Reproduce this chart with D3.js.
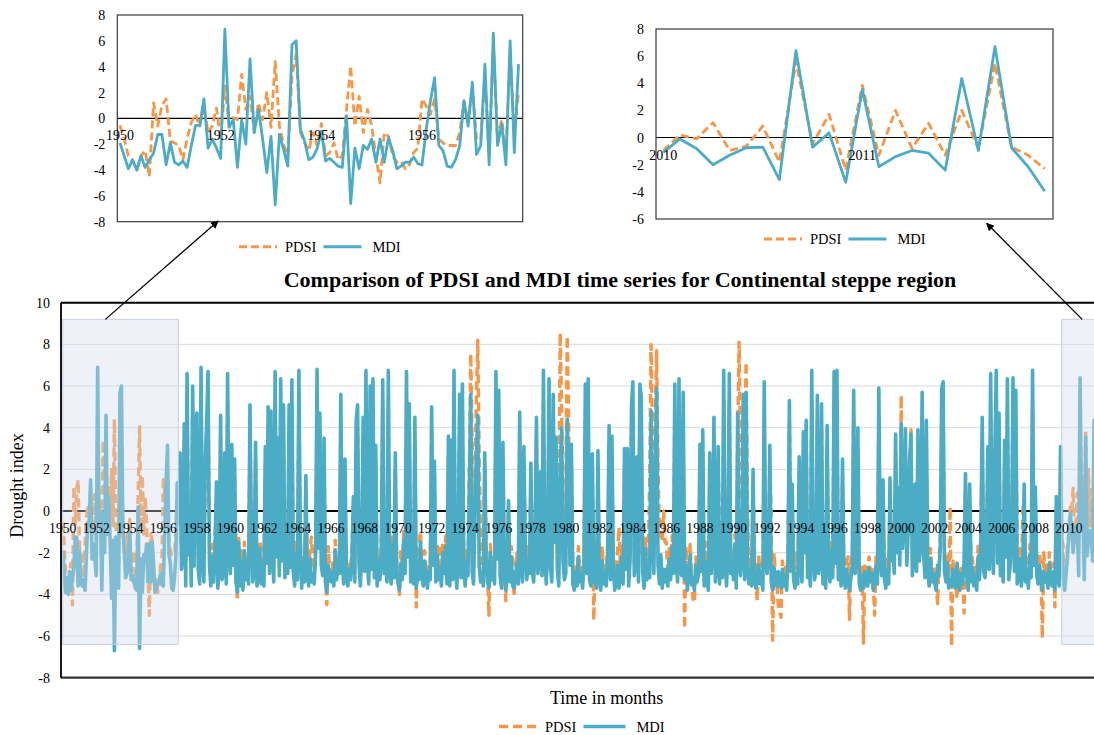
<!DOCTYPE html>
<html>
<head>
<meta charset="utf-8">
<script src="https://cdn.jsdelivr.net/npm/d3@7"></script>
<style>
  html, body { margin: 0; padding: 0; background: #fff; }
  svg { display: block; font-family: "Liberation Serif", "Times New Roman", serif; }
</style>
</head>
<body>
<svg id="chart" width="1094" height="735"></svg>
<script>
// Monthly drought index values, Continental steppe region, Jan 1950 – Dec 2011 (one row per year)
const firstYear = 1950;
const pdsi = [
  -0.55,-1.6,-2.9,-3.3,-4.0,-2.9,-2.5,-4.5,1.2,-0.6,1.0,1.5,       // 1950
  -1.75,-1.9,-2.1,-3.2,-1.6,-0.3,0.3,-0.6,0.95,-1.1,-0.6,0.8,      // 1951
  -1.6,2.5,-0.5,0.05,-0.1,3.4,0.7,1.7,-1.1,1.2,-0.1,2.0,           // 1952
  -0.7,4.4,-0.6,-2.0,-2.9,3.3,5.0,-1.1,-1.9,-2.5,-1.1,-2.1,        // 1953
  -0.4,-2.9,-2.65,-1.9,-3.2,-2.9,0.7,4.05,-0.6,1.7,-1.1,0.7,       // 1954
  -0.6,-2.9,-5.0,-1.1,-1.4,-2.9,-3.4,-3.3,-3.9,-3.6,-2.65,-2.3,    // 1955
  1.5,0.95,0.3,1.5,-1.6,-1.9,-2.1,-2.1,-2.1,-1.1,1.35,-0.3,        // 1956
  2.5,-1.6,-1.6,3.3,-2.9,5.7,-1.6,-0.1,-2.65,5.1,-1.1,2.0,         // 1957
  3.6,-2.1,-3.0,5.4,-1.2,-2.9,1.4,3.1,5.5,-1.8,-3.2,-1.6,          // 1958
  -3.0,-1.2,0.6,-3.5,-2.0,3.5,-2.7,-2.4,1.9,-3.1,5.2,-1.5,         // 1959
  -2.6,2.3,-2.1,1.6,-3.1,-4.3,-1.3,-3.4,-1.9,-3.6,-1.5,-3.0,       // 1960
  -2.4,-3.1,4.0,-0.8,-3.0,-2.5,2.4,-3.3,-2.8,-1.4,-1.7,-2.9,       // 1961
  -3.2,2.2,-2.0,3.9,-2.6,3.7,-1.2,-3.0,5.3,-1.7,2.6,-2.7,          // 1962
  5.0,-1.8,4.0,-2.8,-1.1,-2.6,4.0,-2.2,5.0,-2.5,-3.3,-1.5,         // 1963
  -2.9,5.3,-1.0,-3.4,-2.1,-3.0,1.0,-2.6,-3.3,-1.8,-1.25,-2.7,      // 1964
  -3.2,-1.5,5.4,-1.3,3.6,-2.1,-2.7,2.6,-3.0,-4.5,-1.7,-2.8,        // 1965
  -3.0,-2.5,-3.3,-1.4,-2.9,-2.2,-2.6,4.4,-1.6,-3.2,1.7,-2.9,       // 1966
  -3.3,-2.4,-2.9,-1.7,0.2,-3.0,3.3,4.0,-2.0,-3.2,-1.3,3.5,         // 1967
  -2.4,5.3,-1.9,-3.1,4.7,-2.3,5.0,-2.8,2.3,-3.2,-2.1,-2.9,         // 1968
  -1.4,5.0,-2.6,-1.8,-3.0,5.3,-2.2,-3.1,-1.1,-2.8,2.0,-2.6,        // 1969
  -3.2,-4.0,-1.8,-3.0,-0.9,-2.6,5.3,-1.7,4.0,-3.0,-2.3,-3.2,       // 1970
  3.4,-4.6,-2.1,-1.6,-1.0,-2.6,-3.3,-1.9,-2.8,-3.4,-2.5,-2.9,      // 1971
  3.9,-2.1,1.6,-3.0,-1.6,-2.9,-1.6,-3.2,-1.5,-2.6,-1.2,-3.1,       // 1972
  2.7,-3.2,2.5,-2.9,5.3,-2.0,-3.3,-1.4,4.4,-2.8,4.8,-2.3,          // 1973
  -3.2,-1.9,-2.6,2.4,7.55,3.0,0.2,1.5,5.2,8.2,2.8,-1.5,            // 1974
  -2.6,-3.3,2.0,-1.7,-3.0,-5.0,-1.6,-2.9,-2.2,-3.2,5.3,-1.8,       // 1975
  4.5,-2.7,-3.4,2.4,-2.1,-4.3,-2.6,0.0,-3.0,-1.7,-2.5,-4.1,        // 1976
  -2.8,-2.0,-3.1,3.7,-2.3,-3.0,2.3,-1.3,-2.9,-1.7,-2.6,1.6,        // 1977
  -2.5,-3.0,-1.1,3.5,-2.6,-2.0,1.2,-2.7,5.3,-1.5,-3.1,-1.2,        // 1978
  5.0,-2.2,-3.0,4.4,-1.0,2.7,-2.5,0.4,8.55,5.0,0.4,-2.9,           // 1979
  0.6,8.4,4.5,-1.2,2.4,-2.5,-3.2,-2.5,-3.3,-1.7,-3.0,-2.6,         // 1980
  -3.4,-2.0,4.8,-2.6,5.0,-2.9,-3.3,2.0,-5.25,-2.4,-3.4,2.1,        // 1981
  -2.7,-3.5,-1.7,-2.8,-2.5,-3.3,-1.4,3.1,-2.9,2.7,-2.2,-3.5,       // 1982
  -3.0,-2.0,-0.8,-2.6,-1.7,-3.1,2.2,-2.3,2.2,-3.2,-1.8,3.9,        // 1983
  4.9,-2.7,-2.0,1.8,-3.0,4.8,4.3,-2.5,-3.4,-1.3,-2.9,-2.1,         // 1984
  1.5,8.0,3.8,0.5,4.2,7.7,2.0,-1.2,-0.5,-1.5,0.0,-1.5,             // 1985
  -1.5,-3.2,-1.8,-2.9,-1.2,-2.6,4.8,-2.0,-3.0,5.0,-2.4,-2.7,       // 1986
  4.4,-5.65,-1.7,-3.3,-2.6,-1.6,-3.3,-4.2,-4.4,-2.2,-3.0,-2.6,     // 1987
  2.4,-2.5,2.9,-3.2,-1.5,-2.9,-3.5,2.0,-2.6,-1.7,3.5,-3.0,         // 1988
  -2.2,2.3,-0.3,-1.5,-2.8,5.3,-1.9,-3.2,-1.4,5.2,-2.6,-2.0,        // 1989
  -2.9,-1.1,-3.3,3.8,8.1,3.5,0.5,4.4,2.0,7.15,0.6,-3.1,            // 1990
  -2.3,-3.2,1.3,-2.0,-3.4,-4.3,-2.1,-3.1,-2.5,-3.5,4.9,-1.9,       // 1991
  -2.6,-1.7,2.3,-0.3,-6.2,-2.0,-2.9,-3.3,-4.5,-4.8,-5.1,-2.4,      // 1992
  -3.3,-2.7,-3.5,-1.9,4.2,-2.4,0.6,-2.9,-2.0,-2.6,-3.2,1.8,        // 1993
  -2.0,-3.0,2.9,-1.5,3.4,-2.8,-2.2,-3.2,5.3,-1.6,-2.9,-2.3,        // 1994
  4.4,-2.6,-1.9,4.0,-3.1,-2.4,-3.4,3.1,-2.1,-3.0,-1.4,-2.8,        // 1995
  5.3,-2.0,5.3,-2.9,-1.5,-3.3,1.7,-2.7,-3.4,-2.4,-2.2,-5.2,        // 1996
  -2.4,-2.1,4.6,-2.6,-1.7,3.0,-3.1,-3.5,-2.7,-6.35,-2.5,-3.0,      // 1997
  -3.2,-2.2,-3.0,-2.7,-3.5,-5.0,-2.1,-3.1,4.6,-1.7,-2.7,0.8,       // 1998
  -2.9,-3.4,-2.3,-3.1,0.9,-1.9,-0.7,-2.6,2.8,-1.5,0.4,-2.1,        // 1999
  5.55,-1.3,0.0,3.0,-2.1,-0.5,1.7,3.9,-2.7,-1.7,0.6,-2.5,          // 2000
  3.0,-1.9,-1.0,4.5,-1.5,-2.8,3.4,-3.0,-3.2,-1.8,-3.0,-2.6,        // 2001
  -3.1,-3.4,-4.45,-2.7,-1.2,4.6,4.9,-2.5,-3.0,-2.0,-3.3,0.2,       // 2002
  -6.5,-2.4,-3.0,-3.4,-4.2,-2.9,-3.5,-2.6,-3.2,-4.9,1.0,-2.8,      // 2003
  -3.5,0.6,-2.0,-2.3,-3.3,-2.7,-3.5,-1.7,-2.9,-1.0,3.5,-2.5,       // 2004
  -2.8,-1.5,2.3,-2.3,5.2,-1.1,-2.6,1.9,5.3,-2.0,3.7,-2.7,          // 2005
  -1.9,-3.0,2.6,-1.7,5.0,-2.9,-2.1,-0.9,5.0,-2.5,4.5,-1.5,         // 2006
  -2.6,-1.8,-3.2,0.0,0.6,-2.6,-2.3,-3.3,-1.6,-2.8,5.3,-2.1,        // 2007
  0.5,-2.7,-3.1,-2.1,-2.9,-6.1,-2.0,-3.0,-2.6,-3.4,-2.0,-2.9,      // 2008
  -3.2,-2.5,-4.6,0.1,-2.8,-3.2,2.3,-1.3,-1.8,-3.4,-2.6,-1.7,       // 2009
  -0.95,0.2,-0.1,1.1,-0.95,-0.65,0.85,-1.8,5.6,-0.45,1.7,-2.4,     // 2010
  3.85,-1.3,2.0,-0.8,1.05,-1.3,2.0,-0.8,5.45,-0.7,-1.3,-2.3        // 2011
];
const mdi = [
  -1.9,-2.9,-3.9,-3.2,-4.0,-2.9,-3.8,-3.2,-2.7,-1.25,-1.25,-3.6,   // 1950
  -1.9,-3.4,-3.6,-3.3,-3.8,-2.1,-0.55,-0.55,1.5,-2.3,-1.6,-2.3,    // 1951
  -3.1,6.9,-0.7,-0.1,-3.8,-0.1,-2.0,4.6,-1.1,0.7,-1.6,-4.2,        // 1952
  -1.4,-6.7,-1.25,-2.4,-3.7,5.7,6.0,-0.85,-1.75,-3.2,-3.0,-2.35,   // 1953
  -1.0,-3.3,-3.1,-3.4,-3.7,-3.8,0.2,-6.6,-2.3,-3.9,-2.1,-2.4,      // 1954
  -1.6,-3.4,-1.6,-3.4,-1.5,-2.5,-3.9,-3.7,-3.4,-3.4,-3.0,-3.5,     // 1955
  -3.6,-0.85,1.35,3.15,-2.1,-2.5,-3.7,-3.8,-3.2,-2.1,1.35,-0.6,    // 1956
  2.8,-2.8,-2.1,4.2,-3.6,6.6,-2.1,-0.45,-3.6,6.0,-2.65,4.2,        // 1957
  4.7,-2.8,-3.5,6.9,-1.9,-3.4,2.3,4.2,6.7,-2.6,-3.6,-2.2,          // 1958
  -3.4,-1.8,1.4,-3.7,-2.5,4.6,-3.3,-2.9,2.8,-3.5,6.6,-2.1,         // 1959
  -3.0,3.2,-2.6,2.5,-3.4,-3.9,-1.5,-3.6,-2.4,-3.8,-1.9,-3.3,       // 1960
  -2.8,-3.5,5.1,-1.2,-3.4,-2.9,3.3,-3.6,-3.1,-1.8,-3.5,-3.2,       // 1961
  -3.6,3.1,-2.5,5.0,-3.0,4.8,-1.7,-3.4,6.7,-2.2,3.5,-3.1,          // 1962
  6.35,-2.4,5.1,-3.2,-1.6,-3.0,5.1,-2.7,6.3,-2.9,-3.6,-2.0,        // 1963
  -3.3,6.75,-1.5,-3.7,-2.6,-3.4,1.7,-3.0,-3.6,-2.3,-3.4,-3.0,      // 1964
  -3.5,-2.0,6.8,-1.8,4.7,-2.6,-3.1,3.5,-3.4,-3.9,-2.6,-3.1,        // 1965
  -3.4,-2.9,-3.6,-1.9,-3.3,-2.6,-3.0,5.6,-2.1,-3.5,2.5,-3.2,       // 1966
  -3.6,-2.8,-3.3,-2.2,0.7,-3.4,4.35,5.1,-2.5,-3.6,-1.8,4.5,        // 1967
  -2.9,6.75,-2.4,-3.5,6.0,-2.8,6.35,-3.2,3.15,-3.6,-2.6,-3.3,      // 1968
  -1.9,6.3,-3.0,-2.3,-3.4,6.75,-2.7,-3.5,-1.6,-3.2,2.8,-3.0,       // 1969
  -3.5,-3.8,-2.5,-3.3,-1.4,-3.0,6.7,-2.2,5.15,-3.4,-2.8,-3.5,      // 1970
  4.5,-3.7,-2.6,-3.3,-1.5,-3.0,-3.6,-2.4,-3.2,-3.7,-2.9,-3.3,      // 1971
  5.0,-2.6,2.4,-3.4,-2.1,-3.3,-2.8,-3.6,-2.0,-3.0,-1.7,-3.5,       // 1972
  3.6,-3.6,3.4,-3.3,6.75,-2.5,-3.7,-1.9,5.6,-3.2,6.1,-2.8,         // 1973
  -3.6,-2.4,-3.1,1.2,5.6,-2.9,-3.5,-0.2,2.5,4.6,-2.6,-3.4,         // 1974
  -3.0,-3.6,2.8,-2.2,-3.4,-3.7,-2.0,-3.3,-2.7,-3.5,6.7,-2.3,       // 1975
  5.8,-3.1,-3.7,3.3,-2.6,-3.8,-3.0,0.5,-3.4,-2.2,-3.6,-3.7,        // 1976
  -3.2,-2.5,-3.5,4.75,-2.8,-3.4,3.1,-1.8,-3.3,-2.7,-3.0,2.3,       // 1977
  -2.9,-3.4,-1.6,4.5,-3.0,-2.5,1.9,-3.1,6.75,-2.0,-3.5,-1.7,       // 1978
  6.35,-2.7,-3.4,5.6,-1.5,3.55,-2.9,-3.6,1.8,4.0,-2.4,-3.3,        // 1979
  -3.0,4.4,2.2,-2.6,3.2,-3.5,-3.8,-2.9,-3.6,-2.2,-3.4,-3.0,        // 1980
  -3.7,-2.5,6.1,-3.0,6.35,-3.3,-3.6,2.75,-3.4,-2.8,-3.7,2.9,       // 1981
  -3.1,-3.8,-2.4,-3.5,-2.9,-3.6,-1.9,4.1,-3.3,3.6,-2.7,-3.8,       // 1982
  -3.4,-2.6,-3.7,-3.0,-2.2,-3.5,3.0,-2.8,3.0,-3.6,-2.3,5.0,        // 1983
  6.2,-3.1,-2.5,2.6,-3.4,6.1,5.5,-2.9,-3.7,-1.8,-3.3,-2.6,         // 1984
  -3.2,4.8,-1.4,-3.0,2.1,5.9,-2.6,-3.5,-2.1,-3.7,-2.8,-3.4,        // 1985
  -2.8,-3.6,-2.3,-3.3,-1.7,-3.0,6.1,-2.5,-3.4,6.35,-2.9,-3.1,      // 1986
  5.7,-3.3,-2.6,-3.8,-3.0,-2.1,-3.5,-3.2,-3.8,-2.6,-3.4,-3.0,      // 1987
  3.2,-2.9,3.9,-3.6,-2.4,-3.3,-3.8,2.8,-3.0,-2.2,4.5,-3.4,         // 1988
  -2.7,3.1,-3.5,-2.0,-3.2,6.75,-2.4,-3.6,-1.9,6.6,-3.0,-2.5,       // 1989
  -3.3,-1.6,-3.7,4.7,-2.5,-3.1,-2.2,5.6,-3.3,5.7,-2.6,-3.5,        // 1990
  -2.8,-3.6,2.0,-3.2,-3.7,-3.4,-2.6,-3.5,-2.9,-3.8,6.2,-2.4,       // 1991
  -3.0,-2.2,3.15,-3.4,-3.8,-2.7,-3.3,-3.6,-2.9,-3.5,-3.7,-2.8,     // 1992
  -3.6,-3.1,-3.8,-2.4,5.3,-2.9,1.3,-3.3,-3.7,-3.0,-3.5,2.6,        // 1993
  -2.5,-3.4,3.8,-2.0,4.35,-3.2,-2.7,-3.6,6.75,-2.1,-3.3,-2.8,      // 1994
  5.55,-3.0,-2.4,5.15,-3.5,-2.9,-3.7,4.1,-2.6,-3.4,-1.9,-3.2,      // 1995
  6.7,-2.5,6.75,-3.3,-2.0,-3.6,2.5,-3.1,-3.7,-2.8,-3.4,-3.8,       // 1996
  -3.2,-2.6,5.8,-3.0,-2.2,4.0,-3.5,-3.8,-3.1,-3.7,-2.9,-3.4,       // 1997
  -3.6,-2.7,-3.4,-3.0,-3.8,-3.3,-2.6,-3.5,5.9,-2.2,-3.1,1.5,       // 1998
  -3.3,-3.7,-2.8,-3.5,1.6,-2.4,-1.2,-3.0,3.7,-2.0,1.1,-2.6,        // 1999
  4.2,-1.8,-0.5,3.95,-2.6,-1.0,2.4,3.7,-3.1,-2.2,1.3,-2.9,         // 2000
  3.9,-2.4,-1.5,5.7,-2.0,-3.2,4.35,-2.7,-3.6,-2.3,-3.4,-3.0,       // 2001
  -3.5,-3.8,-2.6,-3.1,-1.7,5.9,6.2,-2.9,-3.4,-2.5,-3.7,-3.3,       // 2002
  -3.6,-2.8,-3.4,-3.7,-2.5,-3.3,-3.8,-3.0,-3.5,-2.4,1.8,-3.2,      // 2003
  -3.8,1.3,-3.4,-2.7,-3.6,-3.1,-3.8,-2.2,-3.3,-1.5,4.5,-2.9,       // 2004
  -3.2,-2.0,3.1,-2.8,6.6,-1.6,-3.0,2.7,6.75,-2.5,4.7,-3.1,         // 2005
  -2.4,-3.4,3.4,-2.2,6.35,-3.3,-2.6,-1.4,6.4,-2.9,5.8,-3.5,        // 2006
  -3.0,-2.3,-3.6,-2.7,1.3,-3.4,-2.8,-3.7,-2.1,-3.2,6.75,-2.6,      // 2007
  1.15,-3.1,-3.5,-2.6,-3.3,-3.8,-2.9,-3.4,-3.0,-3.7,-2.5,-3.3,     // 2008
  -3.6,-2.9,-3.8,0.7,-3.2,-3.6,3.1,-1.8,-3.3,-3.8,-3.0,-2.2,       // 2009
  -1.1,-0.1,-0.8,-2.0,-1.3,-0.75,-0.7,-3.1,6.4,-0.7,0.35,-3.3,     // 2010
  3.55,-2.15,-1.4,-0.95,-1.15,-2.4,4.35,-0.95,6.7,-0.75,-2.15,-3.95 // 2011
];

// Axis ticks and labels
const mainYTicks = [-8, -6, -4, -2, 0, 2, 4, 6, 8, 10];
const earlyYTicks = [-8, -6, -4, -2, 0, 2, 4, 6, 8];
const lateYTicks = [-6, -4, -2, 0, 2, 4, 6, 8];
const mainYearTicks = [1950, 1952, 1954, 1956, 1958, 1960, 1962, 1964, 1966, 1968, 1970,
  1972, 1974, 1976, 1978, 1980, 1982, 1984, 1986, 1988, 1990, 1992, 1994, 1996, 1998,
  2000, 2002, 2004, 2006, 2008, 2010];
const earlyYearTicks = [1950, 1952, 1954, 1956];
const lateYearTicks = [2010, 2011];

// Zoom windows (month index ranges shown in the two detail panels)
const earlyWindow = [0, 95];     // Jan 1950 – Dec 1957
const lateWindow = [720, 743];   // Jan 2010 – Dec 2011
// Shaded highlight boxes on the main chart, in data units (month index, index value)
const highlights = [
  { from: 0, to: 82.7, lo: -6.4, hi: 9.2 },
  { from: 714.9, to: 760, lo: -6.4, hi: 9.2 }
];

const titleText = "Comparison of PDSI and MDI time series for Continental steppe region";
const COL_PDSI = "#f79646", COL_MDI = "#4bacc6";

const monthIndex = y => (y - firstYear) * 12;
const rows = pdsi.map((p, i) => ({ m: i, pdsi: p, mdi: mdi[i] }));

const svg = d3.select("#chart");

// ---------- main chart ----------
const main = { left: 61, top: 302.7, bottom: 677.7 };
const x = d3.scaleLinear().domain([0, 743]).range([62.7, 62.7 + 1.3975 * 743]);
const y = d3.scaleLinear().domain([-8, 10]).range([main.bottom, main.top]);

const gMain = svg.append("g");
gMain.selectAll("line.grid").data(mainYTicks.filter(t => t !== 0 && t !== 10 && t !== -8))
  .join("line").attr("class", "grid")
  .attr("x1", main.left).attr("x2", 1094)
  .attr("y1", d => y(d)).attr("y2", d => y(d))
  .attr("stroke", "#d9d9d9").attr("stroke-width", 1);

gMain.append("line")
  .attr("x1", main.left).attr("x2", 1094).attr("y1", y(0)).attr("y2", y(0))
  .attr("stroke", "#000").attr("stroke-width", 2);

const mainLine = key => d3.line().x(d => x(d.m)).y(d => y(d[key])).curve(d3.curveLinear);

gMain.append("path").datum(rows)
  .attr("d", mainLine("pdsi")).attr("fill", "none")
  .attr("stroke", COL_PDSI).attr("stroke-width", 3.4)
  .attr("stroke-dasharray", "9,5").attr("stroke-linejoin", "round");
gMain.append("path").datum(rows)
  .attr("d", mainLine("mdi")).attr("fill", "none")
  .attr("stroke", COL_MDI).attr("stroke-width", 3.6)
  .attr("stroke-linejoin", "round");

gMain.selectAll("rect.hl").data(highlights).join("rect").attr("class", "hl")
  .attr("x", d => x(d.from)).attr("width", d => x(d.to) - x(d.from))
  .attr("y", d => y(d.hi)).attr("height", d => y(d.lo) - y(d.hi))
  .attr("fill", "#d3dbea").attr("fill-opacity", 0.38)
  .attr("stroke", "#c9d0dc").attr("stroke-width", 1);

// frame
gMain.append("line").attr("x1", main.left).attr("x2", 1094).attr("y1", main.top).attr("y2", main.top)
  .attr("stroke", "#000").attr("stroke-width", 2);
gMain.append("line").attr("x1", main.left).attr("x2", 1094).attr("y1", main.bottom).attr("y2", main.bottom)
  .attr("stroke", "#333").attr("stroke-width", 2.2);
gMain.append("line").attr("x1", main.left).attr("x2", main.left).attr("y1", main.top).attr("y2", main.bottom)
  .attr("stroke", "#000").attr("stroke-width", 1.8);

gMain.selectAll("text.yt").data(mainYTicks).join("text").attr("class", "yt")
  .attr("x", 50).attr("y", d => y(d) + 5)
  .attr("text-anchor", "end").attr("font-size", 14).attr("fill", "#000")
  .text(d => d);
gMain.selectAll("text.xt").data(mainYearTicks).join("text").attr("class", "xt")
  .attr("x", d => x(monthIndex(d))).attr("y", y(0) + 21.5)
  .attr("text-anchor", "middle").attr("font-size", 13.6).attr("fill", "#000")
  .text(d => d);

svg.append("text").attr("transform", "translate(23,485.5) rotate(-90)")
  .attr("text-anchor", "middle").attr("font-size", 18).text("Drought index");
svg.append("text").attr("x", 606.7).attr("y", 704)
  .attr("text-anchor", "middle").attr("font-size", 18).text("Time in months");
svg.append("text").attr("x", 620).attr("y", 287)
  .attr("text-anchor", "middle").attr("font-size", 22).attr("font-weight", "bold")
  .text(titleText);

// legend helper
function legend(g, x0, yLine, dashLen, solidLen, gapText, textSize, dash, w) {
  g.append("line").attr("x1", x0).attr("x2", x0 + dashLen).attr("y1", yLine).attr("y2", yLine)
    .attr("stroke", COL_PDSI).attr("stroke-width", w).attr("stroke-dasharray", dash);
  const t1 = g.append("text").attr("x", x0 + dashLen + gapText).attr("y", yLine + textSize * 0.36)
    .attr("font-size", textSize).text("PDSI");
  const x1 = x0 + dashLen + gapText + t1.node().getComputedTextLength() + 7;
  g.append("line").attr("x1", x1).attr("x2", x1 + solidLen).attr("y1", yLine).attr("y2", yLine)
    .attr("stroke", COL_MDI).attr("stroke-width", w);
  g.append("text").attr("x", x1 + solidLen + gapText + 3).attr("y", yLine + textSize * 0.36)
    .attr("font-size", textSize).text("MDI");
}
legend(svg.append("g"), 499, 726.5, 38, 42, 8, 14.5, "9,5", 3.4);

// ---------- detail panels ----------
function panel(cfg) {
  const g = svg.append("g");
  const data = rows.slice(cfg.window[0], cfg.window[1] + 1);
  const px = d3.scaleLinear().domain(cfg.window).range(cfg.xr);
  const py = d3.scaleLinear().domain(cfg.ydom).range([cfg.frame.bottom, cfg.frame.top]);
  g.append("line").attr("x1", cfg.frame.left).attr("x2", cfg.frame.right)
    .attr("y1", py(0)).attr("y2", py(0)).attr("stroke", "#000").attr("stroke-width", 1.1);
  const ln = key => d3.line().x(d => px(d.m)).y(d => py(d[key]));
  g.append("path").datum(data).attr("d", ln("pdsi")).attr("fill", "none")
    .attr("stroke", COL_PDSI).attr("stroke-width", 2.8)
    .attr("stroke-dasharray", "8,4").attr("stroke-linejoin", "round");
  g.append("path").datum(data).attr("d", ln("mdi")).attr("fill", "none")
    .attr("stroke", COL_MDI).attr("stroke-width", 2.8).attr("stroke-linejoin", "round");
  g.append("rect").attr("x", cfg.frame.left).attr("y", cfg.frame.top)
    .attr("width", cfg.frame.right - cfg.frame.left).attr("height", cfg.frame.bottom - cfg.frame.top)
    .attr("fill", "none").attr("stroke", "#3a3a3a").attr("stroke-width", 1.2);
  g.selectAll("text.yt").data(cfg.yticks).join("text").attr("class", "yt")
    .attr("x", cfg.frame.left - 12).attr("y", d => py(d) + 5)
    .attr("text-anchor", "end").attr("font-size", 14).text(d => d);
  g.selectAll("text.xt").data(cfg.xticks).join("text").attr("class", "xt")
    .attr("x", d => px(monthIndex(d))).attr("y", py(0) + 22)
    .attr("text-anchor", "middle").attr("font-size", 14).text(d => d);
  legend(g, cfg.legendX, cfg.legendY, 38, 38, 8, 14.5, "8,4", 3);
  return { px, py };
}

const early = panel({
  window: earlyWindow, xr: [120, 518.5], ydom: [-8, 8],
  frame: { left: 117.3, right: 522.7, top: 15, bottom: 221.7 },
  yticks: earlyYTicks, xticks: earlyYearTicks, legendX: 239, legendY: 246.7
});
const late = panel({
  window: lateWindow, xr: [663.3, 1044.7], ydom: [-6, 8],
  frame: { left: 656, right: 1053, top: 29, bottom: 219 },
  yticks: lateYTicks, xticks: lateYearTicks, legendX: 764, legendY: 239
});

// ---------- connector arrows ----------
svg.append("defs").append("marker").attr("id", "arrowhead")
  .attr("viewBox", "0 0 10 10").attr("refX", 9).attr("refY", 5)
  .attr("markerWidth", 8).attr("markerHeight", 8).attr("markerUnits", "userSpaceOnUse")
  .attr("orient", "auto")
  .append("path").attr("d", "M0,0 L10,5 L0,10 z").attr("fill", "#000");

const arrows = [
  { x1: x(30.5), y1: y(highlights[0].hi), x2: early.px(23.4), y2: 221 },
  { x1: x(729.5), y1: y(highlights[1].hi), x2: late.px(739.5), y2: 223.3 }
];
svg.selectAll("line.arrow").data(arrows).join("line").attr("class", "arrow")
  .attr("x1", d => d.x1).attr("y1", d => d.y1).attr("x2", d => d.x2).attr("y2", d => d.y2)
  .attr("stroke", "#000").attr("stroke-width", 1.3).attr("marker-end", "url(#arrowhead)");
</script>
</body>
</html>
